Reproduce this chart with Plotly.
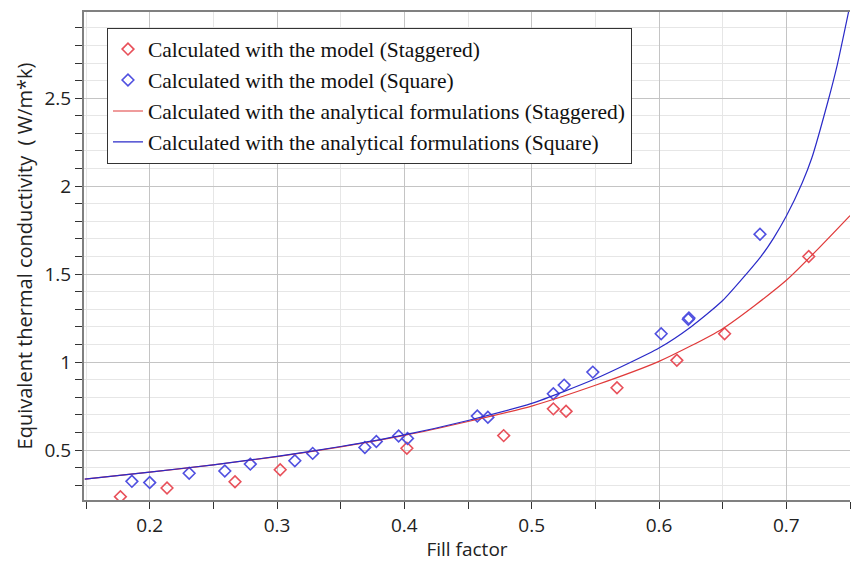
import plotly.graph_objects as go

# ---- data ----
stag_model_x = [0.177, 0.2136, 0.267, 0.3025, 0.402, 0.478, 0.517, 0.527, 0.567, 0.614, 0.6515, 0.7176]
stag_model_y = [0.235, 0.284, 0.320, 0.388, 0.510, 0.582, 0.734, 0.720, 0.854, 1.010, 1.161, 1.600]

sq_model_x = [0.186, 0.200, 0.231, 0.259, 0.279, 0.314, 0.328, 0.369, 0.378, 0.3955, 0.4025,
              0.4573, 0.4656, 0.517, 0.5255, 0.548, 0.6017, 0.623, 0.6235, 0.6793]
sq_model_y = [0.322, 0.315, 0.368, 0.381, 0.420, 0.439, 0.481, 0.515, 0.549, 0.580, 0.566,
              0.693, 0.686, 0.820, 0.869, 0.943, 1.161, 1.243, 1.250, 1.727]

stag_curve_x = [0.149, 0.20, 0.25, 0.30, 0.35, 0.40, 0.45, 0.50, 0.55, 0.60, 0.65, 0.70, 0.75]
stag_curve_y = [0.335, 0.374, 0.416, 0.463, 0.518, 0.583, 0.662, 0.750, 0.868, 1.004, 1.190, 1.465, 1.833]

sq_curve_x = [0.149, 0.20, 0.25, 0.30, 0.35, 0.40, 0.45, 0.50, 0.55, 0.60, 0.625, 0.65, 0.68,
              0.69, 0.70, 0.7125, 0.72, 0.7326, 0.74, 0.75]
sq_curve_y = [0.335, 0.375, 0.416, 0.464, 0.520, 0.586, 0.668, 0.765, 0.905, 1.080, 1.200, 1.350, 1.600,
              1.705, 1.830, 2.020, 2.160, 2.480, 2.690, 3.030]

names = [
    "Calculated with the model (Staggered)",
    "Calculated with the model (Square)",
    "Calculated with the analytical formulations (Staggered)",
    "Calculated with the analytical formulations (Square)",
]
x_title = "Fill factor"
y_title = "Equivalent thermal conductivity  ( W/m*k)"

RED_M = "#e8505a"
BLUE_M = "#5050e0"
RED_L = "#e03a3a"
BLUE_L = "#2a2ac8"

fig = go.Figure()
fig.add_trace(go.Scatter(x=stag_model_x, y=stag_model_y, mode="markers", name=names[0],
                         marker=dict(symbol="diamond-open", size=9, color=RED_M, line=dict(width=1.6, color=RED_M))))
fig.add_trace(go.Scatter(x=sq_model_x, y=sq_model_y, mode="markers", name=names[1],
                         marker=dict(symbol="diamond-open", size=9, color=BLUE_M, line=dict(width=1.6, color=BLUE_M))))
fig.add_trace(go.Scatter(x=stag_curve_x, y=stag_curve_y, mode="lines", name=names[2],
                         line=dict(color=RED_L, width=1.2, shape="spline", smoothing=0.6)))
fig.add_trace(go.Scatter(x=sq_curve_x, y=sq_curve_y, mode="lines", name=names[3],
                         line=dict(color=BLUE_L, width=1.2, shape="spline", smoothing=0.6)))

tick_font = dict(family="Open Sans, Noto Sans, sans-serif", size=19, color="#222222")
x_title_font = dict(family="Open Sans, Noto Sans, sans-serif", size=19, color="#222222")
y_title_font = dict(family="Open Sans, Noto Sans, sans-serif", size=20, color="#222222")

fig.update_layout(
    width=855, height=565,
    margin=dict(l=84, r=5, t=12, b=65),
    paper_bgcolor="white", plot_bgcolor="white",
    showlegend=True,
    legend=dict(
        x=0.030, y=0.968, xanchor="left", yanchor="top",
        bgcolor="white", bordercolor="#333333", borderwidth=1,
        font=dict(family="Liberation Serif, Times New Roman, serif", size=21.5, color="#111111"),
        tracegroupgap=0, itemwidth=30,
    ),
    xaxis=dict(
        range=[0.1484, 0.75], dtick=0.1, tick0=0,
        showgrid=True, gridcolor="#c4c4c4", gridwidth=1.3,
        showline=True, linecolor="#808080", linewidth=2, mirror=True,
        ticks="outside", ticklen=7, tickcolor="#333333", tickwidth=1.2,
        tickfont=tick_font, zeroline=False,
        minor=dict(dtick=0.05, showgrid=True, gridcolor="#e6e6e6", gridwidth=1,
                   ticks="outside", ticklen=7, tickcolor="#333333", tickwidth=1.2),
        title=dict(text=x_title, font=x_title_font, standoff=6),
    ),
    yaxis=dict(
        range=[0.216, 2.99], dtick=0.5, tick0=0,
        showgrid=True, gridcolor="#c4c4c4", gridwidth=1.3,
        showline=True, linecolor="#808080", linewidth=2, mirror=False,
        ticks="outside", ticklen=7, tickcolor="#333333", tickwidth=1.2,
        tickfont=tick_font, zeroline=False,
        minor=dict(dtick=0.1, showgrid=True, gridcolor="#e6e6e6", gridwidth=1,
                   ticks="outside", ticklen=7, tickcolor="#333333", tickwidth=1.2),
        title=dict(text=y_title, font=y_title_font, standoff=6),
    ),
)

fig.write_html("out.html")
